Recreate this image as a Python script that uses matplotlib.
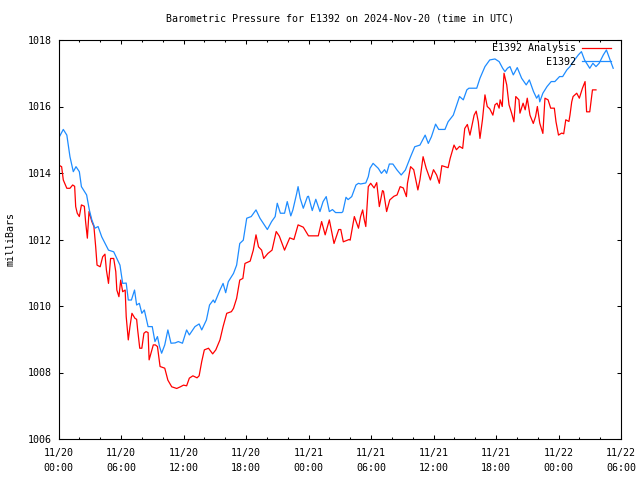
import numpy as np
import matplotlib
matplotlib.use("Agg")
import matplotlib.pyplot as plt
import matplotlib.dates as mdates

# ---- data (hours since 2024-11-20 00:00 UTC, pressure in mbar) ----
e1392_hours = [0.0, 0.46, 0.8, 1.1, 1.42, 1.68, 2.0, 2.2, 2.7, 2.96, 3.2, 3.5, 3.8, 4.15, 4.8, 5.3,
               5.9, 6.16, 6.5, 6.7, 7.0, 7.3, 7.5, 7.76, 8.0, 8.24, 8.6, 9.0, 9.26, 9.5, 9.7, 9.9,
               10.2, 10.5, 10.8, 11.2, 11.5, 11.9, 12.3, 12.56, 13.1, 13.5, 13.75, 14.2, 14.5, 14.86,
               15.0, 15.5, 15.8, 16.05, 16.3, 16.8, 17.1, 17.4, 17.74, 18.07, 18.5, 18.96, 19.34,
               20.05, 20.46, 20.8, 21.0, 21.3, 21.7, 21.96, 22.3, 22.5, 22.87, 23.0, 23.2, 23.5,
               23.9, 24.0, 24.36, 24.7, 25.1, 25.4, 25.7, 26.0, 26.3, 26.6, 27.2, 27.3, 27.6, 27.8,
               28.15, 28.56, 28.8, 29.0, 29.5, 29.74, 29.9, 30.2, 30.7, 31.0, 31.3, 31.5, 31.76,
               32.1, 32.5, 32.9, 33.3, 33.8, 34.2, 34.7, 35.2, 35.5, 35.8, 36.2, 36.5, 37.1, 37.4,
               37.9, 38.5, 38.86, 39.2, 39.4, 40.15, 40.46, 40.94, 41.4, 41.9, 42.3, 42.64, 42.86,
               43.1, 43.34, 43.66, 44.04, 44.46, 44.9, 45.2, 45.6, 45.9, 46.1, 46.2, 46.5, 46.9,
               47.3, 47.65, 48.1, 48.4, 48.8, 49.1, 49.3, 49.9, 50.2, 50.5, 51.0, 51.3, 51.6, 51.9,
               52.3, 52.6, 52.9, 53.25]
e1392_mbar = [1015.04, 1015.31, 1015.14, 1014.49, 1014.04, 1014.19, 1014.04, 1013.59, 1013.34,
              1012.89, 1012.59, 1012.34, 1012.39, 1012.08, 1011.68, 1011.63, 1011.23, 1010.68,
              1010.69, 1010.18, 1010.18, 1010.48, 1010.03, 1010.08, 1009.78, 1009.88, 1009.38,
              1009.38, 1008.93, 1009.08, 1008.78, 1008.58, 1008.83, 1009.28, 1008.88, 1008.89,
              1008.93, 1008.88, 1009.28, 1009.13, 1009.38, 1009.46, 1009.28, 1009.58, 1010.03,
              1010.18, 1010.10, 1010.48, 1010.68, 1010.40, 1010.73, 1010.98, 1011.23, 1011.88,
              1011.98, 1012.64, 1012.69, 1012.89, 1012.64, 1012.30, 1012.54, 1012.69, 1013.09,
              1012.79, 1012.79, 1013.14, 1012.71, 1012.89, 1013.39, 1013.59, 1013.24, 1012.94,
              1013.29, 1013.30, 1012.87, 1013.21, 1012.84, 1013.14, 1013.29, 1012.84, 1012.90,
              1012.81, 1012.81, 1012.84, 1013.27, 1013.20, 1013.29, 1013.64, 1013.69, 1013.67,
              1013.70, 1013.89, 1014.14, 1014.29, 1014.14, 1013.99, 1014.10, 1013.99, 1014.27,
              1014.27, 1014.09, 1013.94, 1014.09, 1014.49, 1014.79, 1014.84, 1015.14, 1014.89,
              1015.09, 1015.47, 1015.31, 1015.31, 1015.54, 1015.74, 1016.30, 1016.20, 1016.50,
              1016.55, 1016.55, 1016.85, 1017.20, 1017.40, 1017.43, 1017.35, 1017.15, 1017.05,
              1017.15, 1017.20, 1016.95, 1017.17, 1016.85, 1016.65, 1016.80, 1016.45, 1016.25,
              1016.35, 1016.14, 1016.40, 1016.60, 1016.75, 1016.75, 1016.90, 1016.90, 1017.10,
              1017.20, 1017.30, 1017.55, 1017.65, 1017.40, 1017.15, 1017.30, 1017.20, 1017.30,
              1017.55, 1017.70, 1017.45, 1017.15]

analysis_hours = [0.0, 0.3, 0.46, 0.8, 1.1, 1.36, 1.55, 1.65, 1.8, 2.0, 2.2, 2.48, 2.6, 2.77, 2.93,
                  3.2, 3.4, 3.57, 3.7, 4.0, 4.24, 4.46, 4.6, 4.8, 5.0, 5.3, 5.5, 5.6, 5.8, 5.97,
                  6.16, 6.4, 6.5, 6.7, 6.86, 7.05, 7.34, 7.5, 7.6, 7.8, 8.0, 8.2, 8.4, 8.6, 8.7,
                  8.9, 9.1, 9.3, 9.5, 9.75, 10.2, 10.5, 10.87, 11.35, 11.7, 12.0, 12.3, 12.56,
                  12.9, 13.3, 13.5, 13.75, 14.0, 14.4, 14.8, 15.1, 15.5, 15.8, 16.15, 16.6, 16.8,
                  17.1, 17.4, 17.7, 17.9, 18.4, 18.7, 18.96, 19.2, 19.5, 19.7, 20.1, 20.5, 20.9,
                  21.2, 21.7, 22.2, 22.6, 23.0, 23.5, 24.0, 24.94, 25.26, 25.6, 26.0, 26.45,
                  26.9, 27.1, 27.34, 27.9, 28.0, 28.4, 28.8, 29.0, 29.2, 29.35, 29.5, 29.74,
                  29.97, 30.3, 30.55, 30.8, 31.1, 31.2, 31.5, 31.8, 32.2, 32.5, 32.8, 33.1, 33.4,
                  33.5, 33.8, 34.1, 34.5, 34.7, 35.0, 35.3, 35.7, 36.0, 36.3, 36.56, 36.8, 37.4,
                  37.6, 37.97, 38.2, 38.5, 38.8, 39.0, 39.25, 39.5, 39.9, 40.1, 40.3, 40.46,
                  40.7, 40.94, 41.16, 41.4, 41.7, 41.9, 42.1, 42.3, 42.4, 42.6, 42.77, 43.03,
                  43.25, 43.5, 43.72, 43.9, 44.2, 44.3, 44.6, 44.8, 45.0, 45.26, 45.58, 45.8,
                  45.97, 46.2, 46.5, 46.7, 47.0, 47.25, 47.6, 47.76, 48.0, 48.3, 48.5, 48.7,
                  49.0, 49.1, 49.27, 49.4, 49.75, 50.0, 50.3, 50.55, 50.7, 51.0, 51.26, 51.6]
analysis_mbar = [1014.24, 1014.19, 1013.79, 1013.54, 1013.54, 1013.64, 1013.60, 1012.99, 1012.79,
                 1012.69, 1013.04, 1013.00, 1012.54, 1012.04, 1012.84, 1012.54, 1012.39, 1011.78,
                 1011.23, 1011.18, 1011.48, 1011.56, 1011.08, 1010.68, 1011.43, 1011.43, 1011.03,
                 1010.48, 1010.28, 1010.78, 1010.43, 1010.48, 1009.68, 1008.98, 1009.38, 1009.78,
                 1009.63, 1009.60, 1009.28, 1008.73, 1008.73, 1009.18, 1009.23, 1009.20, 1008.38,
                 1008.60, 1008.83, 1008.83, 1008.78, 1008.18, 1008.13, 1007.77, 1007.57, 1007.52,
                 1007.57, 1007.62, 1007.60, 1007.83, 1007.90, 1007.84, 1007.90, 1008.33, 1008.68,
                 1008.73, 1008.56, 1008.68, 1008.98, 1009.38, 1009.78, 1009.83, 1009.93, 1010.23,
                 1010.78, 1010.83, 1011.28, 1011.35, 1011.68, 1012.14, 1011.78, 1011.68, 1011.43,
                 1011.58, 1011.68, 1012.24, 1012.10, 1011.68, 1012.05, 1012.00, 1012.44, 1012.37,
                 1012.11, 1012.11, 1012.54, 1012.14, 1012.59, 1011.88, 1012.30, 1012.30, 1011.93,
                 1012.00, 1011.98, 1012.69, 1012.34, 1012.69, 1012.89, 1012.60, 1012.39, 1013.59,
                 1013.69, 1013.55, 1013.71, 1012.99, 1013.47, 1013.45, 1012.84, 1013.19, 1013.30,
                 1013.34, 1013.59, 1013.55, 1013.29, 1013.69, 1014.19, 1014.10, 1013.49, 1013.80,
                 1014.49, 1014.14, 1013.79, 1014.10, 1013.94, 1013.69, 1014.22, 1014.16, 1014.44,
                 1014.84, 1014.70, 1014.80, 1014.74, 1015.34, 1015.46, 1015.14, 1015.74, 1015.86,
                 1015.54, 1015.04, 1015.60, 1016.35, 1016.00, 1015.93, 1015.74, 1016.05, 1016.10,
                 1015.95, 1016.20, 1016.00, 1017.00, 1016.65, 1016.05, 1015.80, 1015.54, 1016.30,
                 1016.20, 1015.80, 1016.10, 1015.90, 1016.25, 1015.74, 1015.49, 1015.70, 1016.00,
                 1015.50, 1015.19, 1016.25, 1016.20, 1015.95, 1015.95, 1015.54, 1015.14, 1015.20,
                 1015.18, 1015.60, 1015.55, 1015.74, 1016.14, 1016.30, 1016.40, 1016.25, 1016.55,
                 1016.75, 1015.84, 1015.84, 1016.50, 1016.50]

series_labels = ["E1392 Analysis", "E1392"]
title_text = "Barometric Pressure for E1392 on 2024-Nov-20 (time in UTC)"
ylabel_text = "milliBars"
start = np.datetime64("2024-11-20T00:00")
end = np.datetime64("2024-11-22T06:00")
y_ticks = [1006, 1008, 1010, 1012, 1014, 1016, 1018]


def to_times(hours):
    return start + (np.array(hours) * 3600).astype("timedelta64[s]")


plt.rcParams['font.family'] = ['DejaVu Sans Mono']
FS = 7.2

fig = plt.figure(figsize=(6.4, 4.8), dpi=100)
ax = fig.add_axes([58.5 / 640, 41 / 480, (621 - 58.5) / 640, 399 / 480])

ax.plot(to_times(analysis_hours), analysis_mbar, color="#ff0000", lw=0.9, label=series_labels[0])
ax.plot(to_times(e1392_hours), e1392_mbar, color="#1e8cff", lw=0.9, label=series_labels[1])

ax.set_xlim(start, end)
ax.set_ylim(1006, 1018)
ax.set_yticks(y_ticks)
ax.set_yticklabels([str(v) for v in y_ticks])

ax.xaxis.set_major_locator(mdates.HourLocator(byhour=[0, 6, 12, 18]))
ax.xaxis.set_minor_locator(mdates.HourLocator(interval=2))
ax.xaxis.set_major_formatter(mdates.DateFormatter("%m/%d\n%H:%M"))

ax.tick_params(which="both", direction="in", top=True, right=True, labelsize=FS, color="black")
ax.tick_params(which="major", length=3.2, width=0.75, pad=5)
ax.tick_params(which="minor", length=1.6, width=0.75)
ax.tick_params(axis="x", which="major", pad=6.5)
for lbl in ax.get_xticklabels():
    lbl.set_linespacing(1.6)
for s in ax.spines.values():
    s.set_linewidth(0.8)

ax.set_title(title_text, fontsize=FS, pad=13)
ax.set_ylabel(ylabel_text, fontsize=FS, labelpad=9)

ax.legend(loc="upper right", bbox_to_anchor=(611 / 640, 1 - 43 / 480),
          bbox_transform=fig.transFigure, frameon=False, fontsize=FS,
          markerfirst=False, handlelength=2.9, handletextpad=0.6,
          labelspacing=0.38, borderpad=0, borderaxespad=0)

fig.savefig("out.png", dpi=100)
